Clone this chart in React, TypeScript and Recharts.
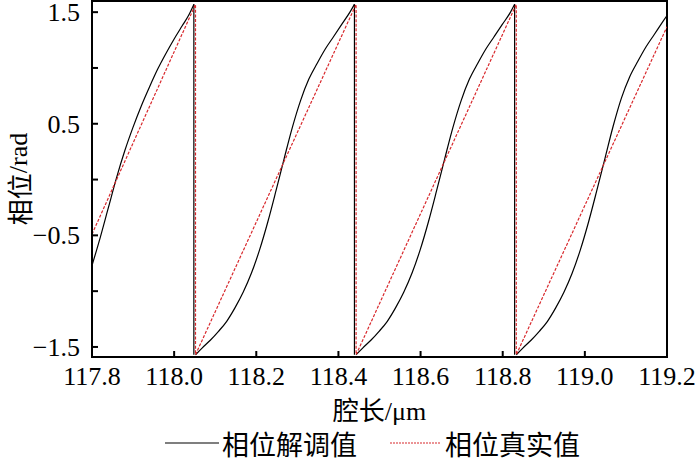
import { Line, LineChart, ReferenceArea, XAxis, YAxis } from "recharts";

const LATIN = "Liberation Serif, Times New Roman, serif";
const CJK = "Noto Sans CJK SC, sans-serif";
const RED = "#d8282c";

const xTicks = [117.8, 118.0, 118.2, 118.4, 118.6, 118.8, 119.0, 119.2];
const yTicks = [-1.5, -1, -0.5, 0, 0.5, 1, 1.5];
const yLabelled = [-1.5, -0.5, 0.5, 1.5];

const demodName = "相位解调值";
const trueName = "相位真实值";

// 相位解调值 — one smooth piece per fringe
const demodX1 = [117.8, 117.82, 117.84, 117.86, 117.88, 117.9, 117.92, 117.94, 117.96, 117.98, 118.0, 118.02, 118.035, 118.048];
const demodY1 = [-0.77, -0.52, -0.25, 0.02, 0.26, 0.47, 0.66, 0.83, 0.99, 1.13, 1.26, 1.38, 1.47, 1.57];

const demodX2 = [118.052, 118.068, 118.088, 118.108, 118.128, 118.148, 118.168, 118.188, 118.208, 118.228, 118.248, 118.268, 118.288, 118.308, 118.328, 118.348, 118.368, 118.388, 118.408, 118.428, 118.439];
const demodY2 = [-1.57, -1.51, -1.44, -1.36, -1.27, -1.15, -1.01, -0.84, -0.63, -0.38, -0.1, 0.19, 0.47, 0.71, 0.9, 1.04, 1.17, 1.28, 1.39, 1.5, 1.57];

const demodX3 = [118.443, 118.459, 118.479, 118.499, 118.519, 118.539, 118.559, 118.579, 118.599, 118.619, 118.639, 118.659, 118.679, 118.699, 118.719, 118.739, 118.759, 118.779, 118.799, 118.819, 118.829];
const demodY3 = [-1.57, -1.51, -1.44, -1.36, -1.27, -1.15, -1.01, -0.84, -0.63, -0.38, -0.1, 0.19, 0.47, 0.71, 0.9, 1.04, 1.17, 1.28, 1.39, 1.5, 1.57];

const demodX4 = [118.833, 118.849, 118.869, 118.889, 118.909, 118.929, 118.949, 118.969, 118.989, 119.009, 119.029, 119.049, 119.069, 119.089, 119.109, 119.129, 119.149, 119.169, 119.189, 119.2];
const demodY4 = [-1.57, -1.51, -1.44, -1.36, -1.27, -1.15, -1.01, -0.84, -0.63, -0.38, -0.1, 0.19, 0.48, 0.73, 0.92, 1.06, 1.19, 1.3, 1.41, 1.47];

// 相位解调值 wraps from +π/2 to −π/2 here
const wrapX = [118.048, 118.439, 118.829];
const wrapTop = 1.57;
const wrapBottom = -1.57;

// 相位真实值 — straight sawtooth
const trueX = [117.8, 118.052, 118.052, 118.443, 118.443, 118.833, 118.833, 119.2];
const trueY = [-0.49, 1.57, -1.57, 1.57, -1.57, 1.57, -1.57, 1.37];

const zip = (xs: number[], ys: number[]) => xs.map((x, i) => ({ x, y: ys[i] }));

const demodSegments = [
  zip(demodX1, demodY1),
  zip(demodX2, demodY2),
  zip(demodX3, demodY3),
  zip(demodX4, demodY4),
];
const wrapSegments = wrapX.map((x) => zip([x, x], [wrapTop, wrapBottom]));
const trueData = zip(trueX, trueY);

const fmtY = (v: number) => {
  if (!yLabelled.includes(v)) return "";
  return v < 0 ? "\u2212" + Math.abs(v).toFixed(1) : v.toFixed(1);
};

const XTick = ({ x, y, payload }: any) => (
  <text x={x} y={y} dy={18} textAnchor="middle" fill="#000" fontFamily={LATIN} fontSize={26}>
    {Number(payload.value).toFixed(1)}
  </text>
);

const YTick = ({ x, y, payload }: any) => (
  <text x={x} y={y} dy={9} textAnchor="end" fill="#000" fontFamily={LATIN} fontSize={26}>
    {fmtY(payload.value)}
  </text>
);

export default function App() {
  return (
    <div style={{ position: "absolute", left: 0, top: 0, width: 700, height: 465, background: "#fff" }}>
      <LineChart width={700} height={465} margin={{ top: 1, right: 33, bottom: 0, left: 0 }} style={{ overflow: "visible" }}>
        <XAxis
          type="number"
          dataKey="x"
          domain={[117.8, 119.2]}
          allowDataOverflow
          ticks={xTicks}
          interval={0}
          tick={<XTick />}
          tickSize={-6}
          tickMargin={16}
          tickLine={{ stroke: "#000", strokeWidth: 2 }}
          axisLine={{ stroke: "#000", strokeWidth: 2 }}
          height={108}
          label={{
            content: (p: any) => {
              const vb = p.viewBox || { x: 92, y: 357, width: 575 };
              return (
                <text x={vb.x + vb.width / 2} y={vb.y + 63} textAnchor="middle" fill="#000" fontSize={26}>
                  <tspan fontFamily={CJK}>腔长</tspan>
                  <tspan fontFamily={LATIN}>/μm</tspan>
                </text>
              );
            },
          }}
        />
        <YAxis
          type="number"
          dataKey="y"
          domain={[-1.59, 1.6]}
          allowDataOverflow
          ticks={yTicks}
          interval={0}
          tick={<YTick />}
          tickSize={-6}
          tickMargin={18}
          tickLine={{ stroke: "#000", strokeWidth: 2 }}
          axisLine={{ stroke: "#000", strokeWidth: 2 }}
          width={92}
          label={{
            content: (p: any) => {
              const vb = p.viewBox || { x: 0, y: 1, height: 356 };
              const cx = 18;
              const cy = vb.y + vb.height / 2;
              return (
                <text
                  x={cx}
                  y={cy}
                  transform={`rotate(-90 ${cx} ${cy})`}
                  textAnchor="middle"
                  dominantBaseline="central"
                  fill="#000"
                  fontSize={26}
                >
                  <tspan fontFamily={CJK}>相位</tspan>
                  <tspan fontFamily={LATIN}>/rad</tspan>
                </text>
              );
            },
          }}
        />
        <ReferenceArea
          x1={117.8}
          x2={119.2}
          y1={-1.59}
          y2={1.6}
          fill="none"
          stroke="#000"
          strokeWidth={2}
          ifOverflow="visible"
        />
        {demodSegments.map((seg, i) => (
          <Line
            key={`d${i}`}
            data={seg}
            dataKey="y"
            name={demodName}
            type="monotone"
            stroke="#000"
            strokeWidth={1.2}
            dot={false}
            activeDot={false}
            isAnimationActive={false}
          />
        ))}
        {wrapSegments.map((seg, i) => (
          <Line
            key={`w${i}`}
            data={seg}
            dataKey="y"
            name={demodName}
            type="linear"
            stroke="#000"
            strokeWidth={1.2}
            dot={false}
            activeDot={false}
            isAnimationActive={false}
          />
        ))}
        <Line
          data={trueData}
          dataKey="y"
          name={trueName}
          type="linear"
          stroke={RED}
          strokeWidth={1.2}
          strokeDasharray="3 1.6"
          dot={false}
          activeDot={false}
          isAnimationActive={false}
        />
      </LineChart>
      <div style={{ position: "absolute", left: 165, top: 425, height: 36, display: "flex", alignItems: "center", fontSize: 27, fontFamily: CJK, whiteSpace: "nowrap" }}>
        <svg width={54} height={4} style={{ marginRight: 3 }}>
          <line x1={0} y1={2} x2={54} y2={2} stroke="#000" strokeWidth={1.2} />
        </svg>
        <span>{demodName}</span>
      </div>
      <div style={{ position: "absolute", left: 390, top: 425, height: 36, display: "flex", alignItems: "center", fontSize: 27, fontFamily: CJK, whiteSpace: "nowrap" }}>
        <svg width={51} height={4} style={{ marginRight: 4 }}>
          <line x1={0} y1={2} x2={51} y2={2} stroke={RED} strokeWidth={1.2} strokeDasharray="2 1" />
        </svg>
        <span>{trueName}</span>
      </div>
    </div>
  );
}
